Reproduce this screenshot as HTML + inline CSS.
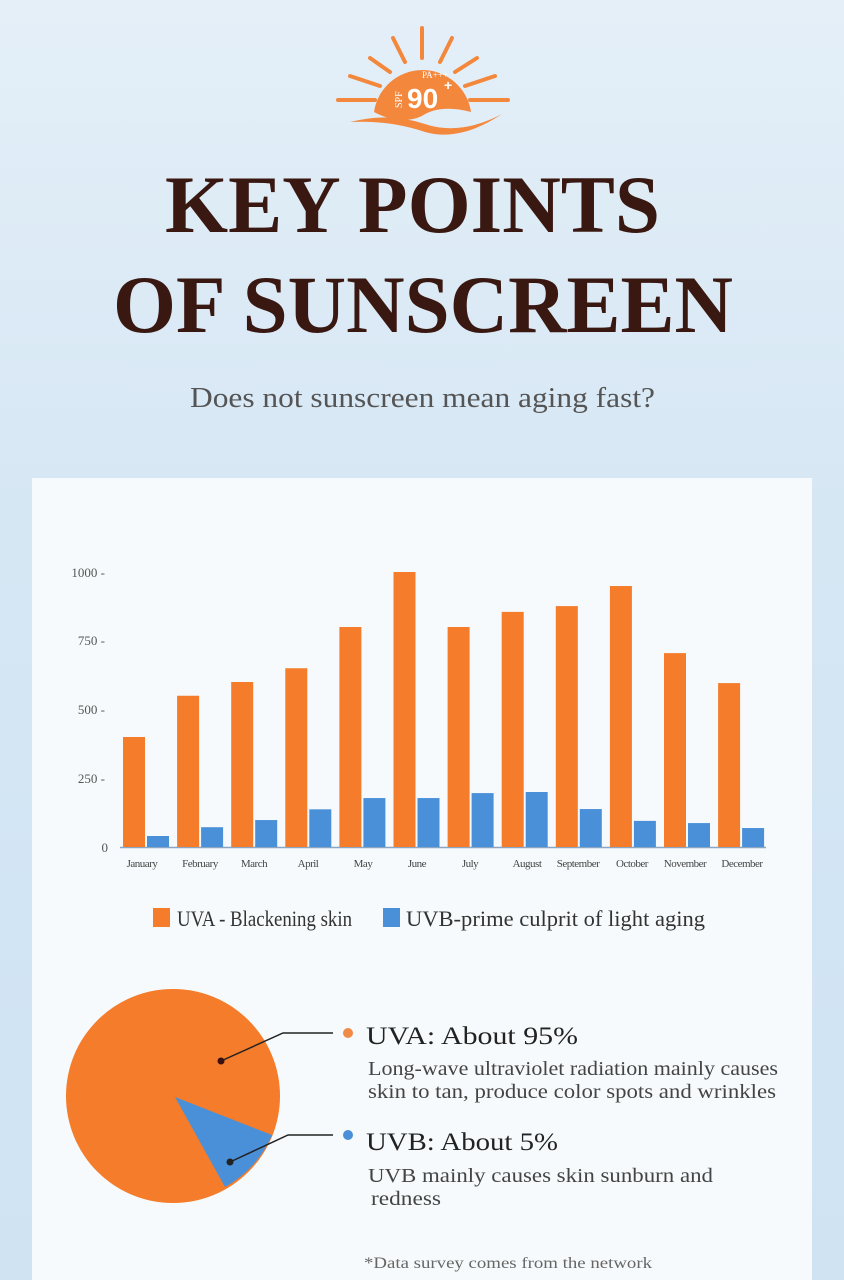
<!DOCTYPE html>
<html><head><meta charset="utf-8"><style>
html,body{margin:0;padding:0}
body{width:844px;height:1280px;overflow:hidden;position:relative;background:linear-gradient(180deg,#e4eff8 0%,#d6e7f4 40%,#cfe3f3 100%);font-family:"Liberation Serif",serif}
.panel{position:absolute;left:32px;top:478px;width:780px;height:802px;background:#f7fafc}
</style></head><body>
<svg style="position:absolute;left:330px;top:20px" width="190" height="130" viewBox="0 0 190 130">
<g stroke="#f3883d" stroke-width="4" stroke-linecap="round">
<line x1="92" y1="38" x2="92" y2="8"/><line x1="75" y1="42" x2="63" y2="18"/><line x1="110" y1="42" x2="122" y2="18"/>
<line x1="60" y1="52" x2="40" y2="38"/><line x1="125" y1="52" x2="147" y2="38"/>
<line x1="50" y1="66" x2="20" y2="56"/><line x1="135" y1="66" x2="165" y2="56"/>
<line x1="45" y1="80" x2="8" y2="80"/><line x1="140" y1="80" x2="178" y2="80"/>
</g>
<path d="M44 92 A49 49 0 0 1 141 92 Q110 84 92 96 Q70 106 44 92Z" fill="#f3883d"/>
<path d="M20 102 Q60 92 95 104 Q130 116 172 94 Q130 122 95 112 Q60 100 20 102Z" fill="#f3883d"/>
<text x="92" y="58" font-size="9" fill="#fff" font-family="Liberation Serif">PA+++</text>
<text x="77" y="88" font-size="28" font-weight="bold" fill="#fff" font-family="Liberation Sans">90</text>
<text x="114" y="70" font-size="14" font-weight="bold" fill="#fff" font-family="Liberation Sans">+</text>
<text x="72" y="88" font-size="10" fill="#fff" transform="rotate(-90 72 88)">SPF</text>
</svg>
<div class="panel"></div>
<svg style="position:absolute;left:0;top:0" width="844" height="1280" font-family="Liberation Serif">
<text x="165" y="232" font-size="82" font-weight="bold" fill="#3a1812" textLength="495" lengthAdjust="spacingAndGlyphs">KEY POINTS</text>
<text x="113" y="332" font-size="82" font-weight="bold" fill="#3a1812" textLength="620" lengthAdjust="spacingAndGlyphs">OF SUNSCREEN</text>
<text x="190" y="407" font-size="29" fill="#555" textLength="465" lengthAdjust="spacingAndGlyphs">Does not sunscreen mean aging fast?</text>
<g font-size="13" fill="#555" text-anchor="end">
<text x="105" y="577">1000 -</text><text x="105" y="645">750 -</text><text x="105" y="714">500 -</text><text x="105" y="783">250 -</text><text x="108" y="852">0</text>
</g>
<line x1="120" y1="847.5" x2="766" y2="847.5" stroke="#8aa6c2" stroke-width="1.5"/>
<g id="bars"></g>
<g font-size="11" fill="#444" text-anchor="middle" letter-spacing="-0.5">
<text x="142" y="867">January</text><text x="200" y="867">February</text><text x="254" y="867">March</text><text x="308" y="867">April</text><text x="363" y="867">May</text><text x="417" y="867">June</text><text x="470" y="867">July</text><text x="527" y="867">August</text><text x="578" y="867">September</text><text x="632" y="867">October</text><text x="685" y="867">November</text><text x="742" y="867">December</text>
</g>
<rect x="153" y="908" width="17" height="19" fill="#f47c2a"/>
<text x="177" y="926" font-size="22" fill="#333" textLength="175" lengthAdjust="spacingAndGlyphs">UVA - Blackening skin</text>
<rect x="383" y="908" width="17" height="19" fill="#4a90d9"/>
<text x="406" y="926" font-size="22" fill="#333" textLength="299" lengthAdjust="spacingAndGlyphs">UVB-prime culprit of light aging</text>
<circle cx="173" cy="1096" r="107" fill="#f47c2a"/>
<path d="M175 1097 L272 1135 A107 107 0 0 1 225 1187 Z" fill="#4a90d9"/>
<polyline points="221,1061 283,1033 333,1033" fill="none" stroke="#222" stroke-width="1.5"/>
<circle cx="221" cy="1061" r="3.5" fill="#3a1010"/>
<polyline points="230,1162 288,1135 333,1135" fill="none" stroke="#222" stroke-width="1.5"/>
<circle cx="230" cy="1162" r="3.5" fill="#222"/>
<circle cx="348" cy="1033" r="5" fill="#f08a45"/>
<circle cx="348" cy="1135" r="5" fill="#4a90d9"/>
<g fill="#222">
<text x="366" y="1044" font-size="25" textLength="212" lengthAdjust="spacingAndGlyphs">UVA:  About 95%</text>
<text x="368" y="1075" font-size="20" fill="#444" textLength="410" lengthAdjust="spacingAndGlyphs">Long-wave ultraviolet radiation mainly causes</text>
<text x="368" y="1098" font-size="20" fill="#444" textLength="408" lengthAdjust="spacingAndGlyphs">skin to tan, produce color spots and wrinkles</text>
<text x="366" y="1150" font-size="25" textLength="192" lengthAdjust="spacingAndGlyphs">UVB: About 5%</text>
<text x="368" y="1182" font-size="20" fill="#444" textLength="345" lengthAdjust="spacingAndGlyphs">UVB mainly causes skin sunburn and</text>
<text x="371" y="1205" font-size="20" fill="#444" textLength="70" lengthAdjust="spacingAndGlyphs">redness</text>
<text x="364" y="1268" font-size="16" fill="#666" textLength="288" lengthAdjust="spacingAndGlyphs">*Data survey comes from the network</text>
</g>
</svg>
<script>
var o=[400,550,600,650,800,1000,800,855,876,949,705,596],b=[40,72,98,137,178,178,196,200,138,95,87,69];
var s='',g=document.getElementById('bars');
for(var i=0;i<12;i++){var x=123+i*54.1;var h=o[i]*0.275,h2=b[i]*0.275;
s+='<rect x="'+x+'" y="'+(847-h)+'" width="22" height="'+h+'" fill="#f47c2a"/>';
s+='<rect x="'+(x+24)+'" y="'+(847-h2)+'" width="22" height="'+h2+'" fill="#4a90d9"/>';}
g.innerHTML=s;
</script>
</body></html>
